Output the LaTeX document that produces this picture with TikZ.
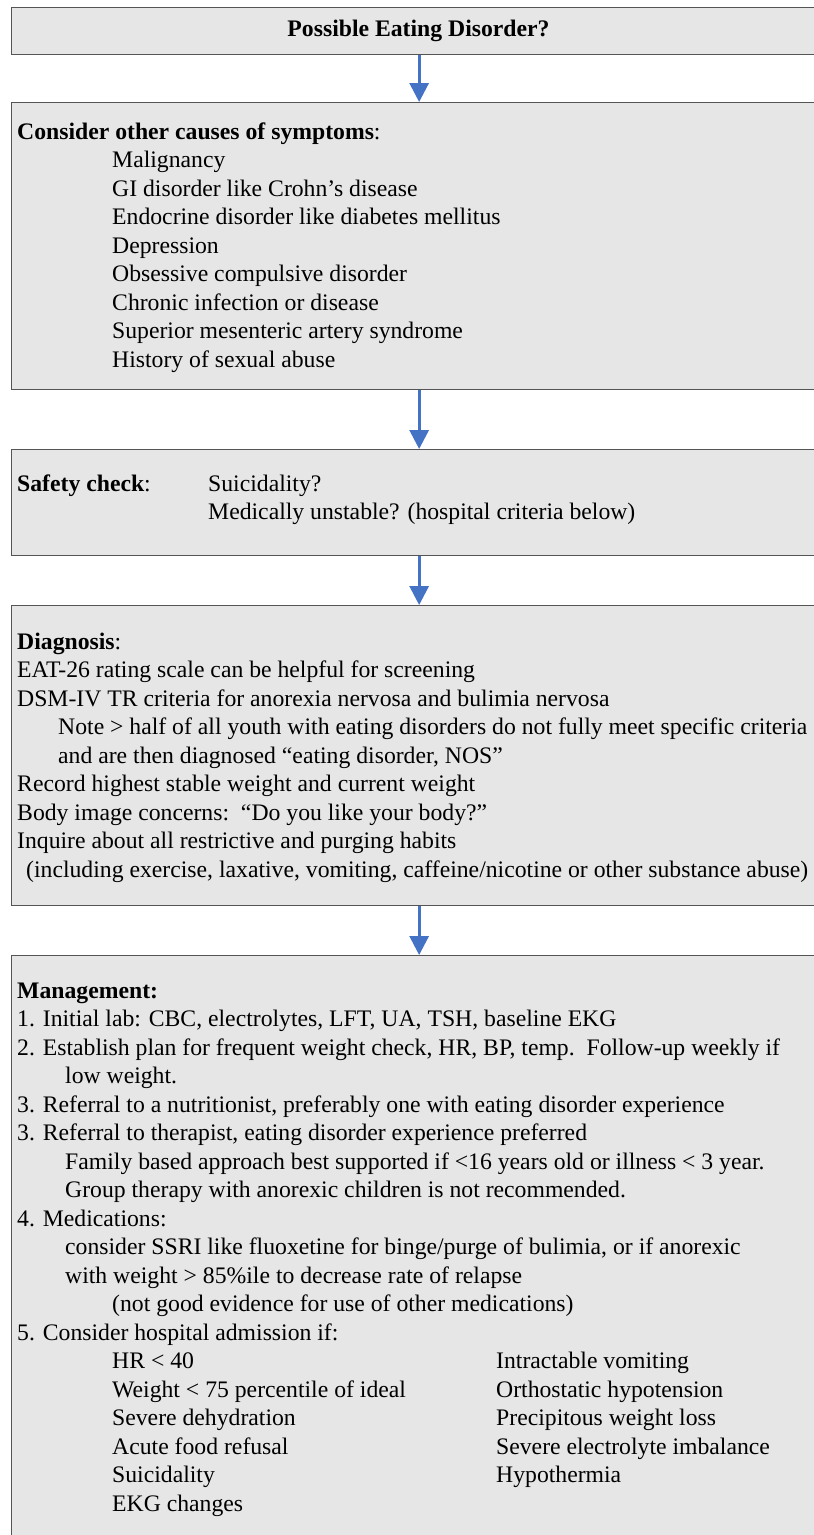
\documentclass[tikz,border=0pt]{standalone}
\usepackage{fontspec}
\setmainfont{Liberation Serif}
\usetikzlibrary{arrows.meta}
\definecolor{boxfill}{RGB}{230,230,230}
\definecolor{boxline}{RGB}{85,85,85}
\definecolor{arrblue}{RGB}{68,114,196}
\begin{document}
\begin{tikzpicture}[x=1pt,y=-1pt,
  box/.style={draw=boxline,fill=boxfill,line width=1.3pt,rectangle,anchor=north west,minimum width=815pt,inner sep=0pt},
  txt/.style={anchor=base west,inner sep=0pt,font=\fontsize{23.7}{28.5}\selectfont},
  ttl/.style={anchor=center,inner sep=0pt,font=\fontsize{23.7}{28.5}\selectfont\bfseries},
  arr/.style={draw=arrblue,line width=3pt,-{Triangle[width=19pt,length=19pt]}}]
\useasboundingbox (0,0) rectangle (814,1535);
\clip (0,0) rectangle (814,1535);
\fill[white] (0,0) rectangle (814,1535);
% boxes
\node[box,minimum height=47pt] (b1) at (11,7) {};
\node[box,minimum height=287pt] (b2) at (11,102) {};
\node[box,minimum height=106pt] (b3) at (11,449) {};
\node[box,minimum height=300pt] (b4) at (11,605) {};
\node[box,minimum height=605pt] (b5) at (11,955) {};
% arrows
\draw[arr] (b1.south) -- (b2.north);
\draw[arr] (b2.south) -- (b3.north);
\draw[arr] (b3.south) -- (b4.north);
\draw[arr] (b4.south) -- (b5.north);
% texts
\node[ttl] (t1) at (418.5,30.5) {Possible Eating Disorder?};
\node[txt] (t2) at (17,139) {\begin{tabular}[t]{@{}l@{}}
\textbf{Consider other causes of symptoms}:\\
\hspace*{95pt}Malignancy\\
\hspace*{95pt}GI disorder like Crohn’s disease\\
\hspace*{95pt}Endocrine disorder like diabetes mellitus\\
\hspace*{95pt}Depression\\
\hspace*{95pt}Obsessive compulsive disorder\\
\hspace*{95pt}Chronic infection or disease\\
\hspace*{95pt}Superior mesenteric artery syndrome\\
\hspace*{95pt}History of sexual abuse
\end{tabular}};
\node[txt] (t3) at (17,491) {\begin{tabular}[t]{@{}l@{}}
\makebox[191pt][l]{\textbf{Safety check}:}Suicidality?\\
\hspace*{191pt}Medically unstable? (hospital criteria below)
\end{tabular}};
\node[txt] (t4) at (17,649) {\begin{tabular}[t]{@{}l@{}}
\textbf{Diagnosis}:\\
EAT-26 rating scale can be helpful for screening\\
DSM-IV TR criteria for anorexia nervosa and bulimia nervosa\\
\hspace*{41pt}Note > half of all youth with eating disorders do not fully meet specific criteria\\
\hspace*{41pt}and are then diagnosed “eating disorder, NOS”\\
Record highest stable weight and current weight\\
Body image concerns:\ \ “Do you like your body?”\\
Inquire about all restrictive and purging habits\\
\hspace*{9pt}(including exercise, laxative, vomiting, caffeine/nicotine or other substance abuse)
\end{tabular}};
\node[txt] (t5) at (17,998) {\begin{tabular}[t]{@{}l@{}}
\textbf{Management:}\\
1. Initial lab: CBC, electrolytes, LFT, UA, TSH, baseline EKG\\
2. Establish plan for frequent weight check, HR, BP, temp.\ \ Follow-up weekly if\\
\hspace*{48pt}low weight.\\
3. Referral to a nutritionist, preferably one with eating disorder experience\\
3. Referral to therapist, eating disorder experience preferred\\
\hspace*{48pt}Family based approach best supported if <16 years old or illness < 3 year.\\
\hspace*{48pt}Group therapy with anorexic children is not recommended.\\
4. Medications:\\
\hspace*{48pt}consider SSRI like fluoxetine for binge/purge of bulimia, or if anorexic\\
\hspace*{48pt}with weight > 85\%ile to decrease rate of relapse\\
\hspace*{95pt}(not good evidence for use of other medications)\\
5. Consider hospital admission if:\\
\hspace*{95pt}\makebox[384pt][l]{HR < 40}Intractable vomiting\\
\hspace*{95pt}\makebox[384pt][l]{Weight < 75 percentile of ideal}Orthostatic hypotension\\
\hspace*{95pt}\makebox[384pt][l]{Severe dehydration}Precipitous weight loss\\
\hspace*{95pt}\makebox[384pt][l]{Acute food refusal}Severe electrolyte imbalance\\
\hspace*{95pt}\makebox[384pt][l]{Suicidality}Hypothermia\\
\hspace*{95pt}EKG changes
\end{tabular}};
\end{tikzpicture}
\end{document}
